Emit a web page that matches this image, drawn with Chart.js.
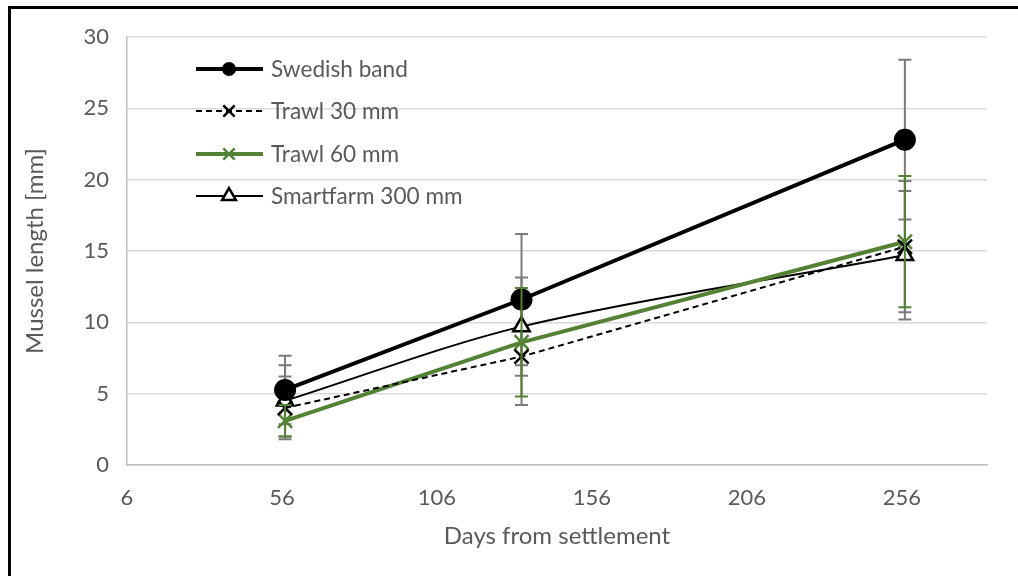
<!DOCTYPE html>
<html>
<head>
<meta charset="utf-8">
<script src="https://cdn.jsdelivr.net/npm/chart.js@4"></script>
<style>
  html, body { margin:0; padding:0; background:#fff; overflow:hidden; }
  #wrap { position:relative; width:1018px; height:576px; overflow:hidden; }
  #frame { position:absolute; left:8px; top:6px; width:1100px; height:700px;
           border-top:3px solid #000; border-left:3px solid #000; pointer-events:none; }
  canvas { position:absolute; left:0; top:0; }
</style>
</head>
<body>
<div id="wrap">
  <canvas id="c" width="1018" height="576"></canvas>
  <div id="frame"></div>
</div>
<script>
// ---- data ----
const days = [57, 133.3, 257];
const seriesNames = ["Swedish band", "Trawl 30 mm", "Trawl 60 mm", "Smartfarm 300 mm"];
const swedishBand = [5.26, 11.6, 22.8];
const swedishBandErr = [2.4, 4.6, 5.6];
const trawl30 = [4.0, 7.6, 15.3];
const trawl30Err = [2.2, 3.4, 4.6];
const trawl60 = [3.1, 8.6, 15.65];
const trawl60Err = [1.1, 3.8, 4.6];
const smartfarm = [4.5, 9.7, 14.7];
const smartfarmErr = [2.5, 3.45, 4.5];
const xTicks = [6, 56, 106, 156, 206, 256];
const yTicks = [0, 5, 10, 15, 20, 25, 30];
const xTitle = "Days from settlement";
const yTitle = "Mussel length [mm]";

const FONT = 'Lato, "Open Sans", sans-serif';
const GREEN = '#548235';
const TXT = '#595959';

function pts(vals) { return days.map((d, i) => ({x: d, y: vals[i]})); }

const errs = [swedishBandErr, trawl30Err, trawl60Err, smartfarmErr];
const errColors = ['#7a7a7a', '#7a7a7a', GREEN, '#7a7a7a'];
const errOnTop = [false, false, true, false];

const datasets = [
  { label: seriesNames[0], data: pts(swedishBand), borderColor:'#000', backgroundColor:'#000',
    borderWidth:4, pointStyle:'circle', pointRadius:11, pointBorderWidth:0, pointBackgroundColor:'#000',
    legendR:7 },
  { label: seriesNames[1], data: pts(trawl30), borderColor:'#000', backgroundColor:'#000',
    borderWidth:2, borderDash:[6,4], pointStyle:'crossRot', pointRadius:10, pointBorderWidth:2.5,
    pointBorderColor:'#000', legendR:8 },
  { label: seriesNames[2], data: pts(trawl60), borderColor:GREEN, backgroundColor:GREEN,
    borderWidth:4, pointStyle:'crossRot', pointRadius:10, pointBorderWidth:2.5,
    pointBorderColor:GREEN, legendR:8 },
  { label: seriesNames[3], data: pts(smartfarm), borderColor:'#000', backgroundColor:'#fff',
    borderWidth:2, tension:0.3, pointStyle:'triangle', pointRadius:9.5, pointBorderWidth:2.5,
    pointBorderColor:'#000', pointBackgroundColor:'#fff', legendR:8 }
];

function drawErr(chart, top) {
  const {ctx, scales:{x, y}} = chart;
  ctx.save();
  datasets.forEach((ds, i) => {
    if (errOnTop[i] !== top) return;
    ctx.strokeStyle = errColors[i];
    ctx.lineWidth = 2;
    ds.data.forEach((p, j) => {
      const px = x.getPixelForValue(p.x);
      const yt = y.getPixelForValue(p.y + errs[i][j]);
      const yb = y.getPixelForValue(p.y - errs[i][j]);
      ctx.beginPath();
      ctx.moveTo(px, yt); ctx.lineTo(px, yb);
      ctx.moveTo(px - 6.5, yt); ctx.lineTo(px + 6.5, yt);
      ctx.moveTo(px - 6.5, yb); ctx.lineTo(px + 6.5, yb);
      ctx.stroke();
    });
  });
  ctx.restore();
}

const errorBars = {
  id: 'errorBars',
  beforeDatasetsDraw(chart) { drawErr(chart, false); },
  afterDatasetsDraw(chart) { drawErr(chart, true); }
};

function marker(ctx, style, x, y, r, ds) {
  ctx.save();
  ctx.lineWidth = ds.pointBorderWidth || 2;
  ctx.strokeStyle = ds.pointBorderColor || ds.borderColor;
  ctx.fillStyle = ds.pointBackgroundColor || ds.backgroundColor;
  ctx.setLineDash([]);
  ctx.beginPath();
  if (style === 'circle') {
    ctx.arc(x, y, r, 0, Math.PI * 2); ctx.fill();
  } else if (style === 'crossRot') {
    const o = Math.cos(Math.PI/4) * r;
    ctx.moveTo(x - o, y - o); ctx.lineTo(x + o, y + o);
    ctx.moveTo(x - o, y + o); ctx.lineTo(x + o, y - o);
    ctx.stroke();
  } else if (style === 'triangle') {
    let rad = 0;
    ctx.moveTo(x + Math.sin(rad) * r, y - Math.cos(rad) * r);
    rad += 2*Math.PI/3;
    ctx.lineTo(x + Math.sin(rad) * r, y - Math.cos(rad) * r);
    rad += 2*Math.PI/3;
    ctx.lineTo(x + Math.sin(rad) * r, y - Math.cos(rad) * r);
    ctx.closePath();
    ctx.fill(); ctx.stroke();
  }
  ctx.restore();
}

const insideLegend = {
  id: 'insideLegend',
  afterDraw(chart) {
    const ctx = chart.ctx;
    const rowY = [69, 111, 154, 196];
    const x1 = 196, x2 = 263, xm = 229, tx = 271;
    ctx.save();
    datasets.forEach((ds, i) => {
      const yy = rowY[i];
      ctx.beginPath();
      ctx.strokeStyle = ds.borderColor;
      ctx.lineWidth = ds.borderWidth;
      ctx.setLineDash(ds.borderDash || []);
      ctx.moveTo(x1, yy); ctx.lineTo(x2, yy);
      ctx.stroke();
      ctx.setLineDash([]);
      marker(ctx, ds.pointStyle, xm, yy, ds.legendR, ds);
      ctx.fillStyle = TXT;
      ctx.font = '22.6px ' + FONT;
      ctx.textBaseline = 'middle';
      ctx.textAlign = 'left';
      ctx.fillText(ds.label, tx, yy + 1);
    });
    ctx.restore();
  }
};

new Chart(document.getElementById('c'), {
  type: 'line',
  data: { datasets },
  plugins: [errorBars, insideLegend],
  options: {
    responsive: false,
    animation: false,
    devicePixelRatio: 1,
    layout: { padding: { top: 37, right: 31, left: 0, bottom: 0 } },
    plugins: { legend: { display: false }, tooltip: { enabled: false } },
    scales: {
      x: {
        type: 'linear', min: 6, max: 283.5,
        afterBuildTicks: s => { s.ticks = xTicks.map(v => ({value: v})); },
        afterFit: s => { s.height = 111; },
        grid: { display: false, drawTicks: false },
        border: { display: true, color: '#bfbfbf', width: 1.5 },
        ticks: { color: TXT, font: { size: 22, family: FONT }, padding: 20, maxRotation: 0, autoSkip: false },
        title: { display: true, text: xTitle, color: TXT, font: { size: 24, family: FONT },
                 padding: { top: 0, bottom: 25 } }
      },
      y: {
        type: 'linear', min: 0, max: 30,
        afterBuildTicks: s => { s.ticks = yTicks.map(v => ({value: v})); },
        afterFit: s => { s.width = 127; },
        grid: { color: '#d9d9d9', lineWidth: 1.5, drawTicks: false },
        border: { display: true, color: '#bfbfbf', width: 1.5 },
        ticks: { color: TXT, font: { size: 22, family: FONT }, padding: 18 },
        title: { display: true, text: yTitle, color: TXT, font: { size: 24, family: FONT },
                 padding: { top: 21, bottom: 0 } }
      }
    }
  }
});
</script>
</body>
</html>
